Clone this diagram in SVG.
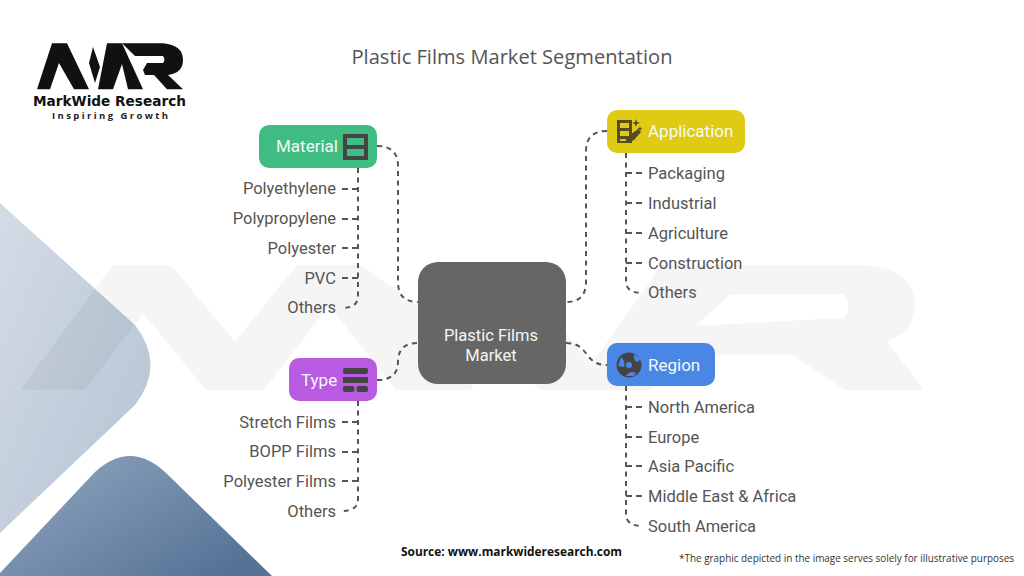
<svg xmlns="http://www.w3.org/2000/svg" width="1024" height="576" viewBox="0 0 1024 576">
<style>
text{font-family:Roboto,"Liberation Sans",sans-serif}
.it{font-size:16.500px;fill:#555}
.r{text-anchor:end}
.hd{font-size:17px;fill:#f1fbf6}
.ic{fill:#444}
.dash{fill:none;stroke:#555;stroke-width:2;stroke-dasharray:5 4.500}
.stub{fill:none;stroke:#555;stroke-width:2;stroke-dasharray:6 4}
</style>
<defs>
<linearGradient id="g1" x1="0" y1="0" x2="1" y2="1"><stop offset="0" stop-color="#d3dce6"/><stop offset="1" stop-color="#b3c2d2"/></linearGradient>
<linearGradient id="g2" x1="0" y1="0" x2="1" y2="0.7"><stop offset="0" stop-color="#93a8c1"/><stop offset="1" stop-color="#567396"/></linearGradient>
</defs>
<rect width="1024" height="576" fill="#fff"/>
<g id="background">
<path d="M0 203 L135 325 Q166 365 135 405 L0 533 Z" fill="url(#g1)"/>
<path d="M0 576 L0 573 L95 472 Q130 440 165 472 L272 576 Z" fill="url(#g2)"/>
<g opacity="0.035" fill="#000" stroke="#000" stroke-width="4" stroke-linejoin="round">
<path d="M24 388 L84 388 L143 310 L207 388 L263 388 L329 302 L397 388 L470 388 L480 320 L540 388 L608 388 L510 267 L455 267 L420 310 L360 267 L298 267 L235 345 L170 267 L114 267 Z"/>
<path fill-rule="evenodd" d="M663 267 L860 267 Q913 270 913 305 Q913 332 883 340 L920 388 L846 388 L793 353 L680 353 L650 388 L577 388 Z M730 292 L690 328 L845 320 Q856 305 845 292 Z"/>
</g>
</g>
<g id="logo">
<polygon points="37,89.3 50,89.3 59,63 74,89.3 89,89.3 67,43.3 52,43.3" fill="#111"/>
<polygon points="93,47 100,67 95,83 89,63" fill="#111"/>
<polygon points="98,89.3 113,89.3 122,64 128,89.3 143,89.3 122,43.3 107,43.3" fill="#111"/>
<path d="M122 43.3 H163 Q183 45 183 60 Q183 73 168 75 L183 89.3 H167 L154 75 H145 L143 70 L147 63 H163 Q166 60 163 56 H135 Z" fill="#111"/>
<text x="33" y="106" font-size="13.500" font-weight="700" fill="#111" textLength="153" lengthAdjust="spacingAndGlyphs" style="font-family:'DejaVu Sans',sans-serif">MarkWide Research</text>
<text x="52" y="119" font-size="9.500" font-weight="700" fill="#222" textLength="116" style="font-family:'Open Sans',sans-serif">Inspiring Growth</text>
</g>
<text id="title" x="512" y="64" text-anchor="middle" font-size="20" fill="#555" textLength="321" lengthAdjust="spacingAndGlyphs" style="font-family:'Open Sans',sans-serif">Plastic Films Market Segmentation</text>
<g id="connectors">
<path class="dash" d="M377 146 Q398 146 398 166 V282 Q398 302 418 302"/>
<path class="dash" d="M607 131 Q586 131 586 151 V282 Q586 302 566 302"/>
<path class="dash" d="M377 380 Q398 380 398 362 Q398 343 418 343"/>
<path class="dash" d="M566 343 C590 343 583 365 607 365"/>
<path class="dash" d="M358 168 V296 Q358 308 342 308"/>
<path class="dash" d="M626 153 V281 Q626 293 642 293"/>
<path class="dash" d="M358 401 V499 Q358 511 342 511"/>
<path class="dash" d="M626 386 V514 Q626 526 642 526"/>
<path class="stub" d="M342 189H358M342 219H358M342 248H358M342 278H358M342 422H358M342 452H358M342 481H358"/>
<path class="stub" d="M642 173H626M642 203H626M642 233H626M642 263H626M642 407H626M642 437H626M642 466H626M642 496H626"/>
</g>
<g id="center"><rect x="418" y="262" width="148" height="122" rx="20" fill="#666"/>
<text x="491" y="341" text-anchor="middle" font-size="16.500" fill="#f5f5f5">Plastic Films</text>
<text x="491" y="361" text-anchor="middle" font-size="16.500" fill="#f5f5f5">Market</text></g>
<g id="material"><rect x="259" y="125" width="118" height="43" rx="10" fill="#3fbc82"/>
<text class="hd" x="276" y="152">Material</text>
<rect class="ic" x="343" y="134" width="25" height="26"/><rect x="347" y="138" width="17" height="7" fill="#3fbc82"/><rect x="347" y="149" width="17" height="7" fill="#3fbc82"/></g>
<g id="application"><rect x="607" y="110" width="138" height="43" rx="10" fill="#e0cb14"/>
<text class="hd" x="648" y="137">Application</text>
<path d="M617 120H632V143H617Z M620 123V128H629V123Z M620 131V136H629V131Z M620 139V141H626V139Z" fill="#554c20" fill-rule="evenodd"/>
<path d="M627 143L630 135L638 129L641 132L634 140Z" fill="#554c20"/>
<path d="M636 119l1 3 3 1-3 1-1 3-1-3-3-1 3-1Z M640 126l.7 2 2 .7-2 .7-.7 2-.7-2-2-.7 2-.7Z" fill="#554c20"/></g>
<g id="type"><rect x="289" y="358" width="88" height="43" rx="10" fill="#b95ae2"/>
<text class="hd" x="301" y="386">Type</text>
<rect class="ic" x="343" y="368" width="25" height="6" rx="2"/><rect class="ic" x="343" y="377" width="25" height="6"/><rect class="ic" x="343" y="386" width="11.500" height="6" rx="2"/><rect class="ic" x="356.500" y="386" width="11.500" height="6" rx="2"/></g>
<g id="region"><rect x="607" y="343" width="108" height="43" rx="10" fill="#4a86e6"/>
<text class="hd" x="648" y="371">Region</text>
<circle cx="629" cy="365" r="12.500" fill="#444"/>
<path d="M621 357Q626 362 624 367L618 366M634 354Q633 360 637 362L641 359M626 376Q630 370 636 373L634 376" fill="#4a86e6"/><circle cx="629" cy="365" r="3" fill="#4a86e6"/></g>
<g id="material-items">
<text class="it r" x="336" y="194">Polyethylene</text>
<text class="it r" x="336" y="224">Polypropylene</text>
<text class="it r" x="336" y="254">Polyester</text>
<text class="it r" x="336" y="284">PVC</text>
<text class="it r" x="336" y="313">Others</text></g>
<g id="type-items">
<text class="it r" x="336" y="428">Stretch Films</text>
<text class="it r" x="336" y="457">BOPP Films</text>
<text class="it r" x="336" y="487">Polyester Films</text>
<text class="it r" x="336" y="517">Others</text></g>
<g id="application-items">
<text class="it" x="648" y="179">Packaging</text>
<text class="it" x="648" y="209">Industrial</text>
<text class="it" x="648" y="239">Agriculture</text>
<text class="it" x="648" y="269">Construction</text>
<text class="it" x="648" y="298">Others</text></g>
<g id="region-items">
<text class="it" x="648" y="413">North America</text>
<text class="it" x="648" y="443">Europe</text>
<text class="it" x="648" y="472">Asia Pacific</text>
<text class="it" x="648" y="502">Middle East &amp; Africa</text>
<text class="it" x="648" y="532">South America</text></g>
<text x="401" y="556" font-size="12.500" font-weight="700" fill="#111" textLength="221" lengthAdjust="spacingAndGlyphs" style="font-family:'Open Sans',sans-serif">Source: www.markwideresearch.com</text>
<text x="679" y="562" font-size="10" fill="#333" textLength="335" lengthAdjust="spacingAndGlyphs" style="font-family:'Open Sans',sans-serif">*The graphic depicted in the image serves solely for illustrative purposes</text>
</svg>
